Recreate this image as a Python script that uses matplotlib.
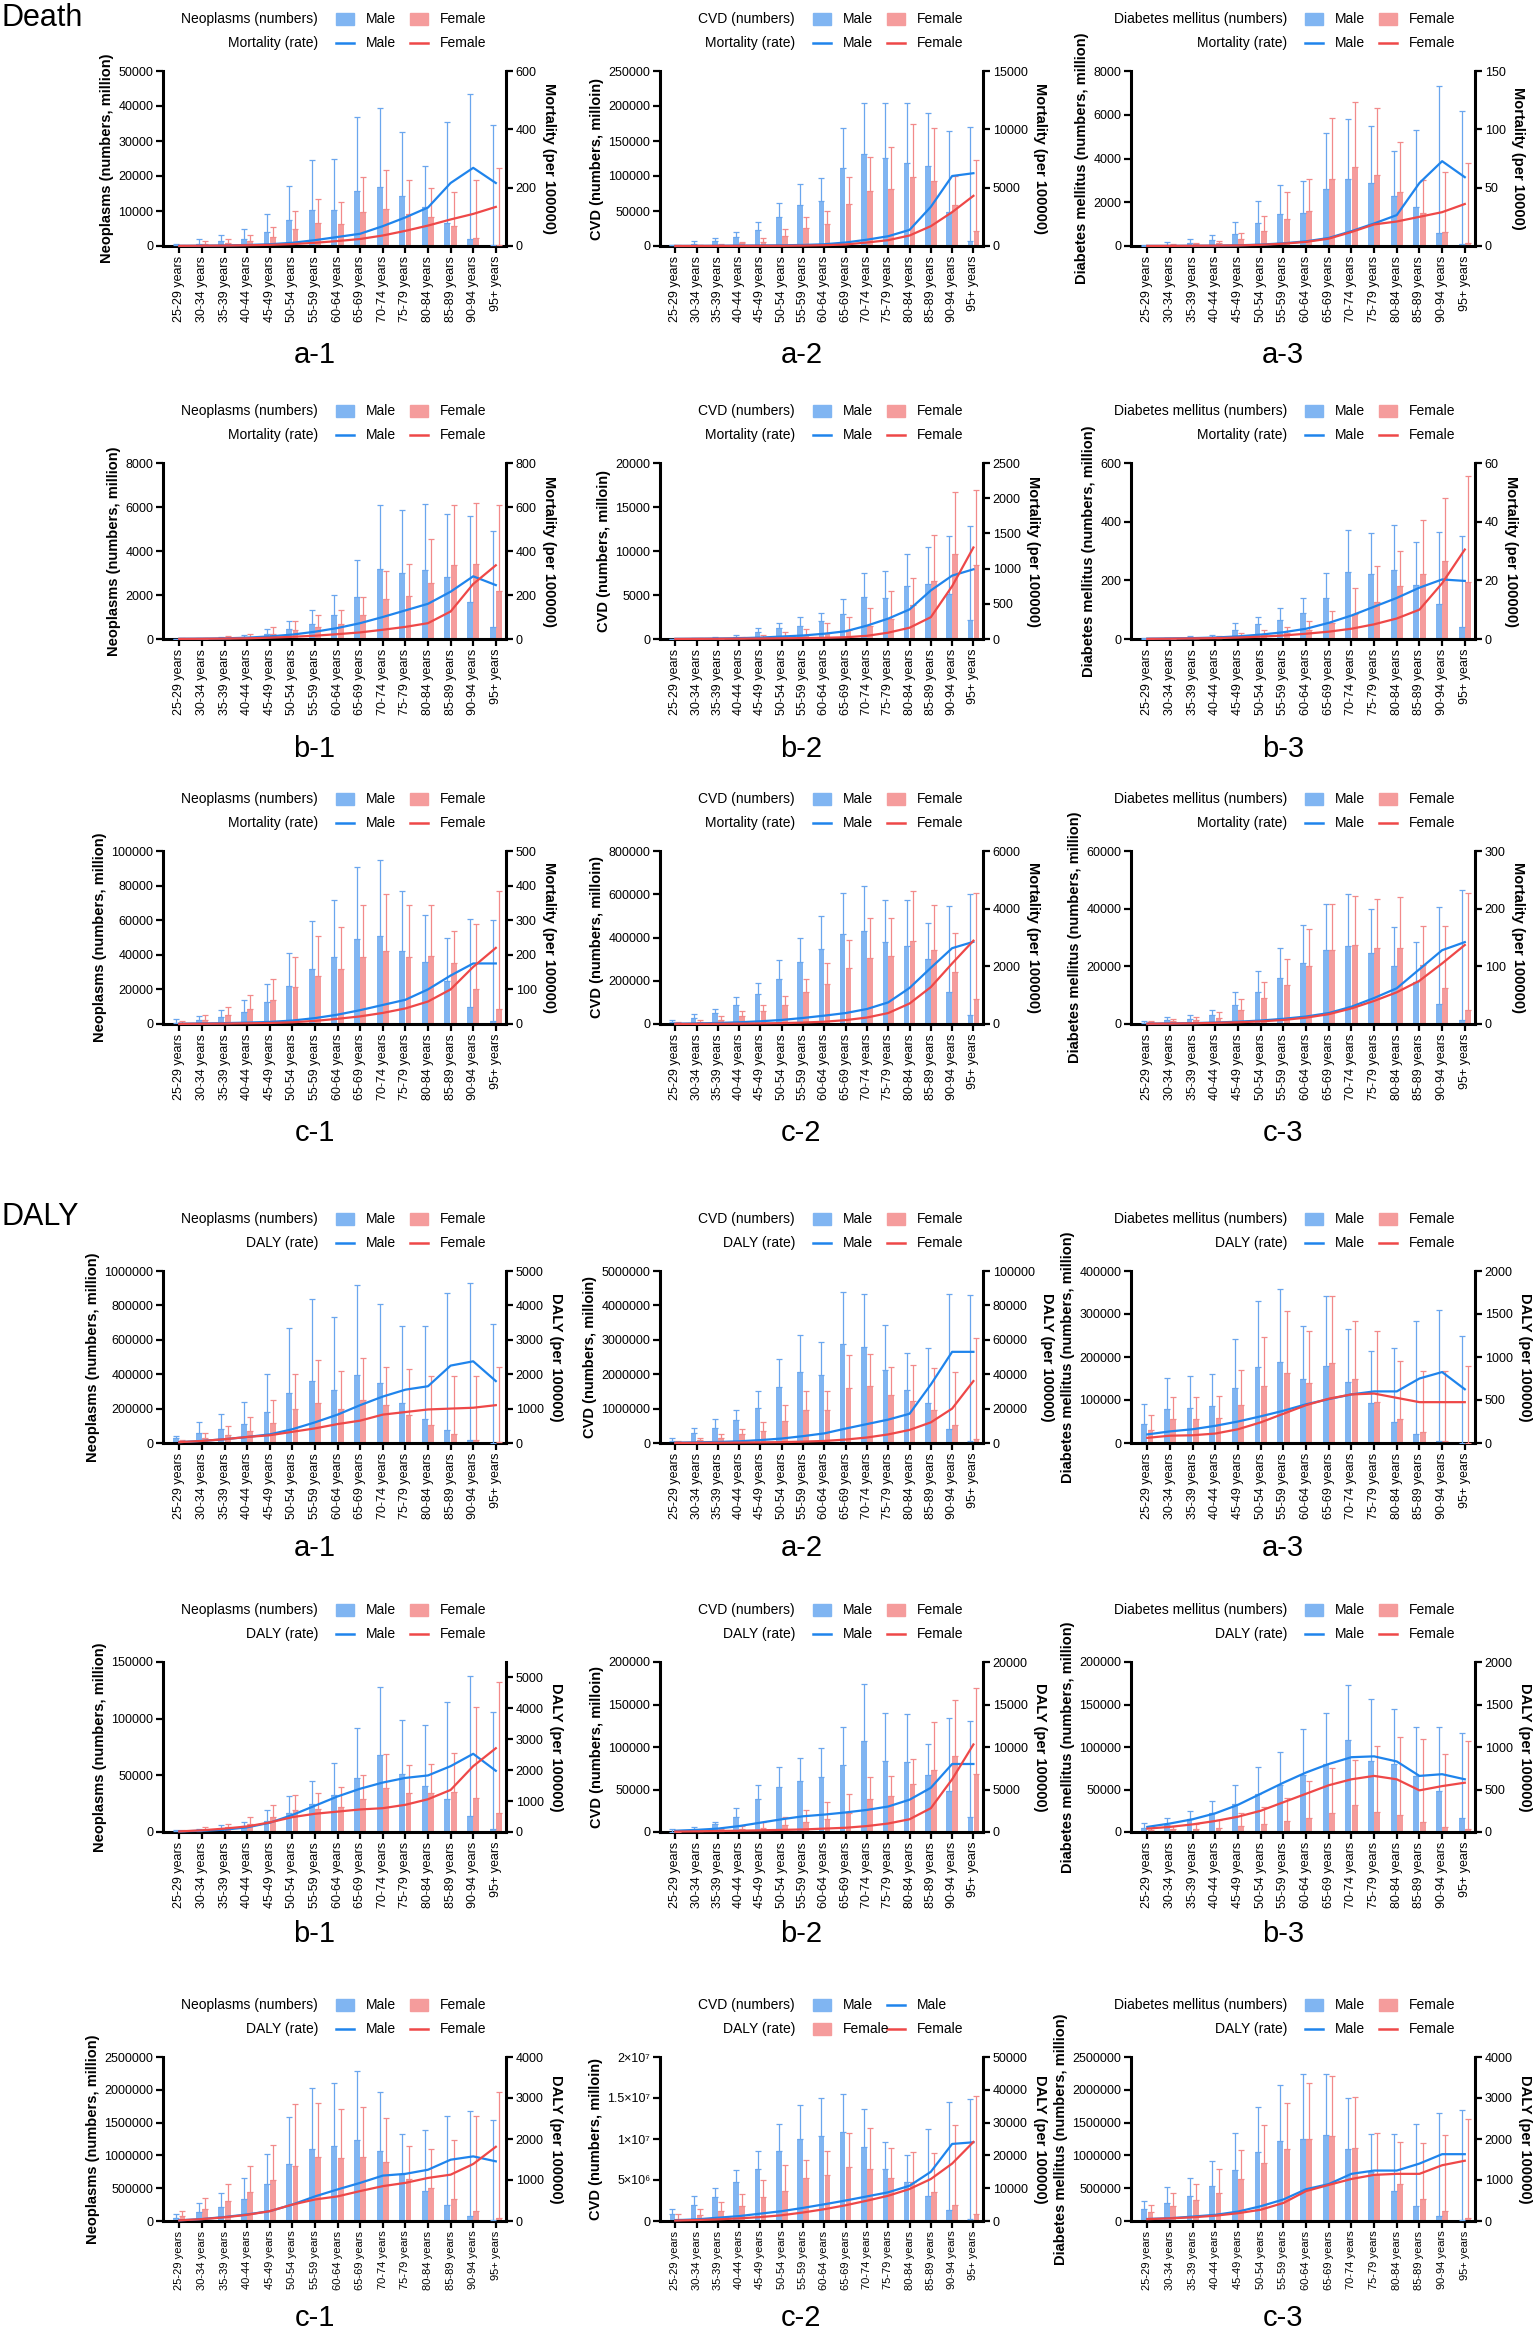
import numpy as np
import matplotlib
matplotlib.use('Agg')
import matplotlib.pyplot as plt
from matplotlib.patches import Rectangle
from matplotlib.lines import Line2D

plt.rcParams['font.family'] = ['Liberation Sans', 'DejaVu Sans']

AGES = ['25-29 years', '30-34 years', '35-39 years', '40-44 years', '45-49 years',
        '50-54 years', '55-59 years', '60-64 years', '65-69 years', '70-74 years',
        '75-79 years', '80-84 years', '85-89 years', '90-94 years', '95+ years']

# ---- Death, row a ----
da1_m = [300, 700, 1400, 2100, 4100, 7500, 10400, 10400, 15700, 16800, 14400, 11200, 6700, 2000, 200]
da1_f = [100, 500, 900, 1300, 2500, 4800, 6500, 6300, 9700, 10500, 9200, 8300, 5600, 2400, 300]
da1_me = [500, 2000, 3200, 5000, 9200, 17200, 24500, 24800, 37000, 39300, 32500, 23000, 35500, 43500, 34500]
da1_fe = [300, 1300, 2100, 3200, 5400, 10000, 13400, 12600, 19700, 21700, 18800, 16500, 15500, 18800, 22300]
da1_mr = [0.5, 1, 2, 3.5, 6, 11, 20, 31, 42, 68, 98, 132, 216, 268, 216]
da1_fr = [0.5, 1, 1.5, 2.5, 4, 6.5, 11, 17, 24, 36, 52, 70, 91, 110, 134]

da2_m = [1000, 3000, 7500, 13000, 22500, 41000, 58000, 65000, 111000, 131000, 126000, 119000, 115000, 48000, 7000]
da2_f = [300, 800, 1500, 4000, 6000, 15000, 26000, 31000, 60000, 78000, 81000, 98000, 93000, 59000, 22000]
da2_me = [2000, 7000, 12000, 20000, 34000, 61000, 89000, 97000, 169000, 204000, 204000, 204000, 190000, 165000, 170000]
da2_fe = [800, 1500, 3000, 6000, 11000, 25000, 41000, 50000, 99000, 127000, 141000, 174000, 169000, 100000, 123000]
da2_mr = [5, 10, 20, 35, 45, 60, 90, 150, 300, 540, 840, 1380, 3360, 6000, 6240]
da2_fr = [2, 4, 7, 12, 15, 20, 35, 70, 130, 300, 500, 900, 1700, 2900, 4300]

da3_m = [10, 50, 150, 280, 560, 1050, 1450, 1530, 2600, 3050, 2900, 2300, 1800, 600, 80]
da3_f = [5, 40, 80, 150, 300, 700, 1250, 1600, 3050, 3600, 3250, 2450, 1500, 650, 150]
da3_me = [50, 200, 300, 500, 1100, 2050, 2800, 2950, 5150, 5800, 5500, 4350, 5300, 7300, 6150]
da3_fe = [20, 100, 150, 250, 600, 1350, 2450, 3050, 5850, 6600, 6300, 4750, 3000, 3400, 3800]
da3_mr = [0.1, 0.1, 0.2, 0.3, 0.6, 1.2, 2.3, 4, 6.9, 12.7, 19.3, 26.5, 54, 72.7, 59]
da3_fr = [0.1, 0.1, 0.2, 0.3, 0.5, 1, 2, 3.5, 6.3, 12, 18.5, 21, 25, 29, 36]

# ---- Death, row b ----
db1_m = [5, 10, 30, 100, 250, 450, 700, 1100, 1900, 3200, 3000, 3150, 2800, 1700, 550]
db1_f = [5, 15, 40, 100, 250, 400, 550, 700, 1100, 1800, 1950, 2550, 3350, 3400, 2200]
db1_me = [20, 40, 80, 200, 450, 800, 1300, 2000, 3600, 6100, 5850, 6150, 5700, 5600, 4900]
db1_fe = [30, 60, 120, 250, 550, 800, 1100, 1300, 1900, 3100, 3400, 4550, 6100, 6200, 6100]
db1_mr = [1, 1.5, 3, 6, 12, 20, 33, 50, 72, 100, 130, 160, 215, 285, 245]
db1_fr = [0.5, 1, 2, 3, 6, 10, 15, 22, 30, 42, 55, 72, 125, 250, 335]

db2_m = [10, 30, 80, 200, 800, 1300, 1500, 2000, 2800, 4800, 4700, 6000, 6300, 5100, 2200]
db2_f = [5, 15, 40, 100, 200, 350, 500, 700, 1000, 1500, 2300, 3900, 6600, 9700, 8400]
db2_me = [40, 100, 200, 500, 1200, 1800, 2500, 3000, 4500, 7500, 7700, 9700, 10500, 11700, 12800]
db2_fe = [20, 60, 120, 250, 500, 800, 1100, 1800, 2500, 3500, 5500, 6900, 11800, 16700, 16900]
db2_mr = [2, 4, 7, 12, 20, 35, 50, 75, 110, 190, 290, 420, 690, 900, 990]
db2_fr = [1, 2, 3, 5, 7, 10, 13, 17, 25, 45, 90, 160, 310, 750, 1300]

db3_m = [1, 2, 4, 8, 30, 50, 65, 90, 140, 230, 220, 235, 185, 120, 40]
db3_f = [1, 1, 2, 4, 10, 15, 20, 30, 55, 85, 125, 180, 220, 265, 195]
db3_me = [3, 5, 10, 15, 55, 75, 105, 140, 225, 370, 360, 390, 330, 365, 350]
db3_fe = [2, 3, 5, 10, 20, 30, 40, 60, 95, 175, 250, 300, 405, 480, 555]
db3_mr = [0.1, 0.2, 0.3, 0.5, 0.9, 1.5, 2.3, 3.5, 5.5, 8, 11, 14, 17.5, 20.3, 19.8]
db3_fr = [0.05, 0.1, 0.2, 0.3, 0.5, 0.8, 1.2, 1.8, 2.5, 3.5, 5, 7, 10, 19, 30.5]

# ---- Death, row c ----
dc1_m = [500, 2200, 4200, 7000, 12500, 22000, 32000, 39000, 49000, 51000, 42000, 36000, 25000, 10000, 1500]
dc1_f = [800, 2500, 5000, 8500, 14000, 21500, 28000, 32000, 38500, 42000, 38500, 39500, 35000, 20000, 8500]
dc1_me = [3000, 4500, 8000, 14000, 23000, 41000, 59500, 71500, 91000, 95000, 77000, 63000, 50000, 60500, 60000]
dc1_fe = [2000, 5000, 10000, 17000, 26000, 39000, 51000, 56000, 68500, 75000, 68500, 68500, 54000, 58000, 77000]
dc1_mr = [0.8, 1.5, 2.5, 4, 6, 10, 17, 27, 40, 55, 70, 100, 140, 175, 175]
dc1_fr = [0.5, 0.8, 1.2, 2, 3, 5, 9, 15, 22, 32, 45, 65, 100, 165, 220]

dc2_m = [10000, 30000, 50000, 90000, 140000, 210000, 285000, 345000, 415000, 430000, 380000, 360000, 300000, 150000, 40000]
dc2_f = [3000, 10000, 20000, 35000, 60000, 90000, 150000, 185000, 260000, 305000, 315000, 385000, 340000, 240000, 115000]
dc2_me = [20000, 45000, 70000, 125000, 190000, 295000, 400000, 500000, 605000, 640000, 575000, 575000, 465000, 545000, 600000]
dc2_fe = [8000, 20000, 35000, 60000, 90000, 130000, 210000, 280000, 390000, 490000, 490000, 615000, 550000, 420000, 605000]
dc2_mr = [10, 20, 35, 60, 95, 140, 210, 290, 380, 520, 750, 1250, 1950, 2630, 2850]
dc2_fr = [2, 4, 7, 12, 20, 30, 50, 80, 135, 225, 380, 710, 1280, 2100, 2890]

dc3_m = [500, 1300, 1800, 3000, 6500, 11000, 16000, 21000, 25500, 27000, 24500, 20000, 14500, 7000, 1500]
dc3_f = [600, 1000, 1300, 2200, 5000, 9000, 13500, 20000, 25500, 27500, 26500, 26500, 20500, 12500, 5000]
dc3_me = [1000, 2500, 3000, 5000, 11000, 18500, 26500, 34500, 41500, 45000, 40000, 33500, 28500, 40500, 46500]
dc3_fe = [1000, 1800, 2500, 4000, 8500, 14500, 22500, 33000, 41500, 44500, 43500, 44000, 34000, 34000, 45500]
dc3_mr = [0.5, 1, 1.5, 2.5, 4, 6, 9, 13, 19, 30, 45, 62, 95, 128, 142]
dc3_fr = [0.5, 0.8, 1.2, 2, 3, 4.5, 7, 11, 17, 27, 40, 55, 75, 105, 137]

# ---- DALY, row a ----
ya1_m = [30000, 60000, 80000, 110000, 180000, 290000, 360000, 310000, 395000, 350000, 235000, 140000, 75000, 15000, 2000]
ya1_f = [10000, 30000, 45000, 70000, 115000, 195000, 230000, 200000, 250000, 220000, 160000, 105000, 50000, 20000, 5000]
ya1_me = [40000, 120000, 170000, 240000, 400000, 670000, 840000, 730000, 920000, 810000, 680000, 680000, 870000, 930000, 690000]
ya1_fe = [20000, 60000, 100000, 150000, 250000, 400000, 480000, 420000, 495000, 440000, 430000, 390000, 390000, 390000, 440000]
ya1_mr = [25, 60, 110, 175, 250, 400, 600, 825, 1100, 1350, 1550, 1650, 2250, 2375, 1800]
ya1_fr = [25, 60, 110, 175, 225, 325, 425, 550, 650, 825, 900, 975, 1000, 1025, 1100]

ya2_m = [50000, 290000, 440000, 670000, 1020000, 1640000, 2070000, 1970000, 2880000, 2790000, 2130000, 1540000, 1150000, 400000, 50000]
ya2_f = [20000, 80000, 150000, 250000, 350000, 650000, 960000, 970000, 1600000, 1660000, 1390000, 1230000, 950000, 510000, 130000]
ya2_me = [150000, 450000, 700000, 950000, 1500000, 2450000, 3130000, 2950000, 4400000, 4330000, 3440000, 2610000, 2760000, 4340000, 4290000]
ya2_fe = [60000, 150000, 250000, 400000, 600000, 1100000, 1500000, 1500000, 2550000, 2600000, 2210000, 2270000, 2190000, 2050000, 3050000]
ya2_mr = [200, 400, 600, 1000, 1700, 2600, 4000, 5600, 8400, 11000, 13600, 17000, 34000, 53000, 53000]
ya2_fr = [60, 100, 150, 250, 350, 500, 800, 1200, 2000, 3200, 5000, 7600, 12000, 20000, 36000]

ya3_m = [45000, 80000, 82000, 86000, 128000, 177000, 189000, 150000, 178000, 141000, 92000, 50000, 22000, 5000, 1000]
ya3_f = [30000, 55000, 55000, 58000, 88000, 132000, 163000, 140000, 185000, 150000, 95000, 55000, 25000, 5000, 1000]
ya3_me = [90000, 152000, 155000, 160000, 243000, 330000, 357000, 273000, 343000, 265000, 215000, 220000, 283000, 310000, 250000]
ya3_fe = [65000, 108000, 108000, 110000, 170000, 247000, 307000, 260000, 343000, 283000, 260000, 190000, 168000, 168000, 180000]
ya3_mr = [100, 135, 160, 200, 250, 310, 375, 450, 510, 565, 600, 600, 750, 825, 625]
ya3_fr = [60, 85, 90, 110, 160, 240, 340, 440, 515, 565, 575, 525, 475, 475, 475]

# ---- DALY, row b ----
yb1_m = [500, 1000, 2500, 5000, 10000, 17000, 25000, 33000, 48000, 68000, 51000, 41000, 29000, 14000, 3000]
yb1_f = [1000, 2000, 4000, 7000, 13000, 19000, 20000, 22000, 29000, 39000, 34000, 34000, 35000, 30000, 17000]
yb1_me = [1500, 3000, 6000, 9000, 19000, 32000, 45000, 61000, 92000, 128000, 99000, 94000, 115000, 138000, 106000]
yb1_fe = [2000, 4000, 7000, 13000, 24000, 33000, 34000, 40000, 50000, 69000, 59000, 60000, 70000, 110000, 132000]
yb1_mr = [20, 40, 75, 150, 300, 550, 850, 1150, 1400, 1600, 1750, 1830, 2130, 2530, 1980]
yb1_fr = [20, 55, 110, 180, 310, 480, 590, 660, 730, 770, 880, 1060, 1360, 2130, 2710]

yb2_m = [500, 2000, 9000, 18000, 39000, 53000, 60000, 65000, 79000, 107000, 84000, 82000, 67000, 48000, 18000]
yb2_f = [300, 700, 1500, 3000, 5000, 8000, 12000, 15000, 22000, 39000, 42000, 56000, 73000, 90000, 68000]
yb2_me = [3000, 6000, 12000, 28000, 55000, 77000, 87000, 99000, 124000, 174000, 140000, 139000, 104000, 134000, 131000]
yb2_fe = [1000, 2000, 4000, 7000, 12000, 18000, 26000, 35000, 45000, 65000, 66000, 86000, 129000, 155000, 170000]
yb2_mr = [150, 250, 400, 700, 1100, 1500, 1850, 2050, 2300, 2600, 3000, 3800, 5200, 8000, 8000]
yb2_fr = [50, 80, 120, 150, 200, 250, 300, 400, 500, 700, 1000, 1500, 2800, 6200, 10300]

yb3_m = [5000, 8000, 15000, 22000, 33000, 45000, 55000, 67000, 80000, 108000, 84000, 80000, 66000, 48000, 17000]
yb3_f = [2000, 3000, 4000, 5000, 7000, 10000, 13000, 16000, 22000, 32000, 24000, 20000, 12000, 6000, 3000]
yb3_me = [11000, 17000, 25000, 36000, 55000, 77000, 94000, 121000, 140000, 173000, 156000, 145000, 123000, 124000, 116000]
yb3_fe = [5000, 7000, 10000, 14000, 22000, 30000, 40000, 60000, 75000, 85000, 101000, 112000, 110000, 92000, 107000]
yb3_mr = [60, 100, 150, 220, 320, 450, 580, 700, 800, 880, 890, 830, 660, 680, 620]
yb3_fr = [40, 60, 90, 130, 180, 250, 350, 450, 550, 620, 660, 620, 490, 540, 580]

# ---- DALY, row c ----
yc1_m = [50000, 140000, 220000, 340000, 560000, 870000, 1100000, 1150000, 1240000, 1060000, 720000, 460000, 250000, 80000, 10000]
yc1_f = [70000, 180000, 300000, 440000, 630000, 840000, 980000, 960000, 980000, 900000, 640000, 510000, 330000, 160000, 40000]
yc1_me = [100000, 270000, 420000, 650000, 1020000, 1580000, 2030000, 2110000, 2280000, 1960000, 1330000, 1380000, 1600000, 1670000, 1540000]
yc1_fe = [150000, 350000, 570000, 840000, 1160000, 1790000, 1800000, 1700000, 1740000, 1570000, 1140000, 1100000, 1230000, 1600000, 1960000]
yc1_mr = [16, 48, 97, 160, 240, 400, 600, 770, 930, 1107, 1150, 1250, 1495, 1576, 1455]
yc1_fr = [16, 45, 90, 150, 240, 400, 525, 600, 730, 850, 930, 1050, 1130, 1390, 1810]

yc2_m = [800000, 1900000, 2900000, 4700000, 6400000, 8500000, 10000000, 10400000, 10800000, 9000000, 6400000, 4800000, 3000000, 1300000, 200000]
yc2_f = [300000, 700000, 1200000, 1800000, 2900000, 3600000, 5200000, 5600000, 6600000, 6400000, 5200000, 4800000, 3500000, 2000000, 800000]
yc2_me = [1500000, 3000000, 4000000, 6200000, 8500000, 11800000, 14100000, 15000000, 15500000, 13600000, 9600000, 8100000, 11200000, 14500000, 14900000]
yc2_fe = [800000, 1500000, 2300000, 3300000, 5000000, 6800000, 7500000, 8500000, 10700000, 11300000, 8900000, 8400000, 8300000, 11700000, 15300000]
yc2_mr = [250, 500, 1000, 1500, 2250, 3000, 4000, 5100, 6250, 7500, 8750, 10750, 15000, 23500, 24000]
yc2_fr = [150, 300, 500, 800, 1200, 1750, 2600, 3600, 4800, 6200, 7700, 9750, 12800, 17500, 24100]

yc3_m = [180000, 280000, 380000, 530000, 780000, 1050000, 1220000, 1250000, 1310000, 1100000, 750000, 450000, 230000, 80000, 20000]
yc3_f = [140000, 230000, 320000, 430000, 640000, 880000, 1090000, 1250000, 1290000, 1110000, 720000, 560000, 330000, 150000, 40000]
yc3_me = [310000, 520000, 660000, 910000, 1340000, 1740000, 2080000, 2240000, 2240000, 1880000, 1320000, 1320000, 1480000, 1640000, 1690000]
yc3_fe = [240000, 420000, 560000, 790000, 1080000, 1460000, 1800000, 2110000, 2210000, 1890000, 1340000, 1200000, 1190000, 1310000, 1550000]
yc3_mr = [50, 67, 108, 150, 230, 360, 525, 775, 900, 1150, 1230, 1230, 1400, 1630, 1630]
yc3_fr = [45, 65, 90, 130, 190, 275, 440, 730, 880, 1025, 1125, 1150, 1150, 1360, 1470]

CAUSES = ['Neoplasms', 'CVD', 'Diabetes mellitus']
LEFT_LABELS = ['Neoplasms (numbers, million)', 'CVD (numbers, milloin)',
               'Diabetes mellitus (numbers, million)']
C2_DALY_TICKS = ['0', '5×10⁶', '1×10⁷', '1.5×10⁷', '2×10⁷']

# row, col, data, (left max, step), (right max, step, right top), right label, panel label, kind
PANELS = [
    (0, 0, (da1_m, da1_f, da1_me, da1_fe, da1_mr, da1_fr), (50000, 10000), (600, 200, 600), 'Mortality (per 100000)', 'a-1', 'Mortality'),
    (0, 1, (da2_m, da2_f, da2_me, da2_fe, da2_mr, da2_fr), (250000, 50000), (15000, 5000, 15000), 'Mortality (per 100000)', 'a-2', 'Mortality'),
    (0, 2, (da3_m, da3_f, da3_me, da3_fe, da3_mr, da3_fr), (8000, 2000), (150, 50, 150), 'Mortality (per 10000)', 'a-3', 'Mortality'),
    (1, 0, (db1_m, db1_f, db1_me, db1_fe, db1_mr, db1_fr), (8000, 2000), (800, 200, 800), 'Mortality (per 100000)', 'b-1', 'Mortality'),
    (1, 1, (db2_m, db2_f, db2_me, db2_fe, db2_mr, db2_fr), (20000, 5000), (2500, 500, 2500), 'Mortality (per 100000)', 'b-2', 'Mortality'),
    (1, 2, (db3_m, db3_f, db3_me, db3_fe, db3_mr, db3_fr), (600, 200), (60, 20, 60), 'Mortality (per 100000)', 'b-3', 'Mortality'),
    (2, 0, (dc1_m, dc1_f, dc1_me, dc1_fe, dc1_mr, dc1_fr), (100000, 20000), (500, 100, 500), 'Mortality (per 100000)', 'c-1', 'Mortality'),
    (2, 1, (dc2_m, dc2_f, dc2_me, dc2_fe, dc2_mr, dc2_fr), (800000, 200000), (6000, 2000, 6000), 'Mortality (per 100000)', 'c-2', 'Mortality'),
    (2, 2, (dc3_m, dc3_f, dc3_me, dc3_fe, dc3_mr, dc3_fr), (60000, 20000), (300, 100, 300), 'Mortality (per 100000)', 'c-3', 'Mortality'),
    (3, 0, (ya1_m, ya1_f, ya1_me, ya1_fe, ya1_mr, ya1_fr), (1000000, 200000), (5000, 1000, 5000), 'DALY (per 100000)', 'a-1', 'DALY'),
    (3, 1, (ya2_m, ya2_f, ya2_me, ya2_fe, ya2_mr, ya2_fr), (5000000, 1000000), (100000, 20000, 100000), 'DALY (per 100000)', 'a-2', 'DALY'),
    (3, 2, (ya3_m, ya3_f, ya3_me, ya3_fe, ya3_mr, ya3_fr), (400000, 100000), (2000, 500, 2000), 'DALY (per 100000)', 'a-3', 'DALY'),
    (4, 0, (yb1_m, yb1_f, yb1_me, yb1_fe, yb1_mr, yb1_fr), (150000, 50000), (5000, 1000, 5500), 'DALY (per 100000)', 'b-1', 'DALY'),
    (4, 1, (yb2_m, yb2_f, yb2_me, yb2_fe, yb2_mr, yb2_fr), (200000, 50000), (20000, 5000, 20000), 'DALY (per 100000)', 'b-2', 'DALY'),
    (4, 2, (yb3_m, yb3_f, yb3_me, yb3_fe, yb3_mr, yb3_fr), (200000, 50000), (2000, 500, 2000), 'DALY (per 100000)', 'b-3', 'DALY'),
    (5, 0, (yc1_m, yc1_f, yc1_me, yc1_fe, yc1_mr, yc1_fr), (2500000, 500000), (4000, 1000, 4000), 'DALY (per 100000)', 'c-1', 'DALY'),
    (5, 1, (yc2_m, yc2_f, yc2_me, yc2_fe, yc2_mr, yc2_fr), (20000000, 5000000), (50000, 10000, 50000), 'DALY (per 100000)', 'c-2', 'DALY'),
    (5, 2, (yc3_m, yc3_f, yc3_me, yc3_fe, yc3_mr, yc3_fr), (2500000, 500000), (4000, 1000, 4000), 'DALY (per 100000)', 'c-3', 'DALY'),
]

BAR_M, BAR_F = '#80b5f2', '#f59c9c'
ERR_M, ERR_F = '#6aa6ee', '#f28a8a'
LINE_M, LINE_F = '#1f84ec', '#ee4848'

W, H = 1535, 2337
fig = plt.figure(figsize=(W / 100, H / 100), dpi=100)

# axes boxes in pixels
COLS = [(163, 506), (660, 983), (1131, 1475)]
ROWS = [(71, 246), (463, 639), (851, 1024), (1271, 1443), (1662, 1832), (2057, 2221)]
PLABEL_Y = [355, 749, 1133, 1548, 1934, 2318]
XTICK_SIZE = [9, 9, 9, 9, 9, 8]


def fx(x):
    return x / W


def fy(y):
    return 1 - y / H


def legend(R, T, cause, kind, swap):
    ys = [T - 52, T - 28]
    fig.text(fx(R - 188), fy(ys[0]), cause + ' (numbers)', ha='right', va='center', fontsize=10)
    fig.text(fx(R - 188), fy(ys[1]), kind + ' (rate)', ha='right', va='center', fontsize=10)
    if swap:
        items = [(0, 0, 'p', 'm'), (0, 1, 'l', 'm'), (1, 0, 'p', 'f'), (1, 1, 'l', 'f')]
    else:
        items = [(0, 0, 'p', 'm'), (0, 1, 'p', 'f'), (1, 0, 'l', 'm'), (1, 1, 'l', 'f')]
    slots = [R - 170, R - 96]
    for row, slot, typ, sex in items:
        y = ys[row]
        x0 = slots[slot]
        if typ == 'p':
            fig.add_artist(Rectangle((fx(x0), fy(y + 6)), 18 / W, 12 / H, transform=fig.transFigure,
                                     color=BAR_M if sex == 'm' else BAR_F))
        else:
            fig.add_artist(Line2D([fx(x0), fx(x0 + 18)], [fy(y), fy(y)], transform=fig.transFigure,
                                  color=LINE_M if sex == 'm' else LINE_F, lw=1.8))
        fig.text(fx(x0 + 30), fy(y), 'Male' if sex == 'm' else 'Female', ha='left', va='center', fontsize=10)


x = np.arange(len(AGES))
for row, col, data, lim, rlim, rlabel, plabel, kind in PANELS:
    m, f, me, fe, mr, fr = [np.array(v, dtype=float) for v in data]
    L, R = COLS[col]
    T, B = ROWS[row]
    ax = fig.add_axes([fx(L), fy(B), (R - L) / W, (B - T) / H])
    ax.bar(x - 0.14, m, 0.26, color=BAR_M, zorder=2)
    ax.bar(x + 0.14, f, 0.26, color=BAR_F, zorder=2)
    ax.errorbar(x - 0.14, m, yerr=[np.zeros_like(m), me - m], fmt='none', ecolor=ERR_M,
                elinewidth=0.9, capsize=2, capthick=0.9, zorder=3)
    ax.errorbar(x + 0.14, f, yerr=[np.zeros_like(f), fe - f], fmt='none', ecolor=ERR_F,
                elinewidth=0.9, capsize=2, capthick=0.9, zorder=3)
    ax.set_xlim(-0.72, 14.45)
    ax.set_ylim(0, lim[0])
    yt = np.arange(0, lim[0] + lim[1] / 2, lim[1])
    ax.set_yticks(yt)
    if row == 5 and col == 1:
        ax.set_yticklabels(C2_DALY_TICKS)
    else:
        ax.set_yticklabels([str(int(v)) for v in yt])
    ax.set_xticks(x)
    ax.set_xticklabels(AGES, rotation=90)
    ax.set_ylabel(LEFT_LABELS[col], fontsize=10.5, fontweight='bold', labelpad=3)
    ax.tick_params(axis='both', direction='out', length=5, width=1.6, labelsize=9, pad=2)
    ax.tick_params(axis='x', labelsize=XTICK_SIZE[row])
    for s in ['top', 'right']:
        ax.spines[s].set_visible(False)
    for s in ['left', 'bottom']:
        ax.spines[s].set_linewidth(2.2)

    ax2 = ax.twinx()
    ax2.plot(x, mr, color=LINE_M, lw=1.6, clip_on=False, zorder=4)
    ax2.plot(x, fr, color=LINE_F, lw=1.6, clip_on=False, zorder=4)
    ax2.set_ylim(0, rlim[2])
    rt = np.arange(0, rlim[0] + rlim[1] / 2, rlim[1])
    ax2.set_yticks(rt)
    ax2.set_yticklabels([str(int(v)) for v in rt])
    ax2.set_ylabel(rlabel, fontsize=10.5, fontweight='bold', rotation=270, va='bottom', labelpad=4)
    ax2.tick_params(axis='y', direction='out', length=5, width=1.6, labelsize=9, pad=2)
    for s in ['top', 'left', 'bottom']:
        ax2.spines[s].set_visible(False)
    ax2.spines['right'].set_linewidth(2.2)

    legend(R, T, CAUSES[col], kind, row == 5 and col == 1)
    fig.text(fx((L + R) / 2 - 20), fy(PLABEL_Y[row]), plabel, ha='center', va='center', fontsize=21)

fig.text(fx(2), fy(18), 'Death', ha='left', va='center', fontsize=22)
fig.text(fx(2), fy(1217), 'DALY', ha='left', va='center', fontsize=22)

fig.savefig('out.png', dpi=100)
